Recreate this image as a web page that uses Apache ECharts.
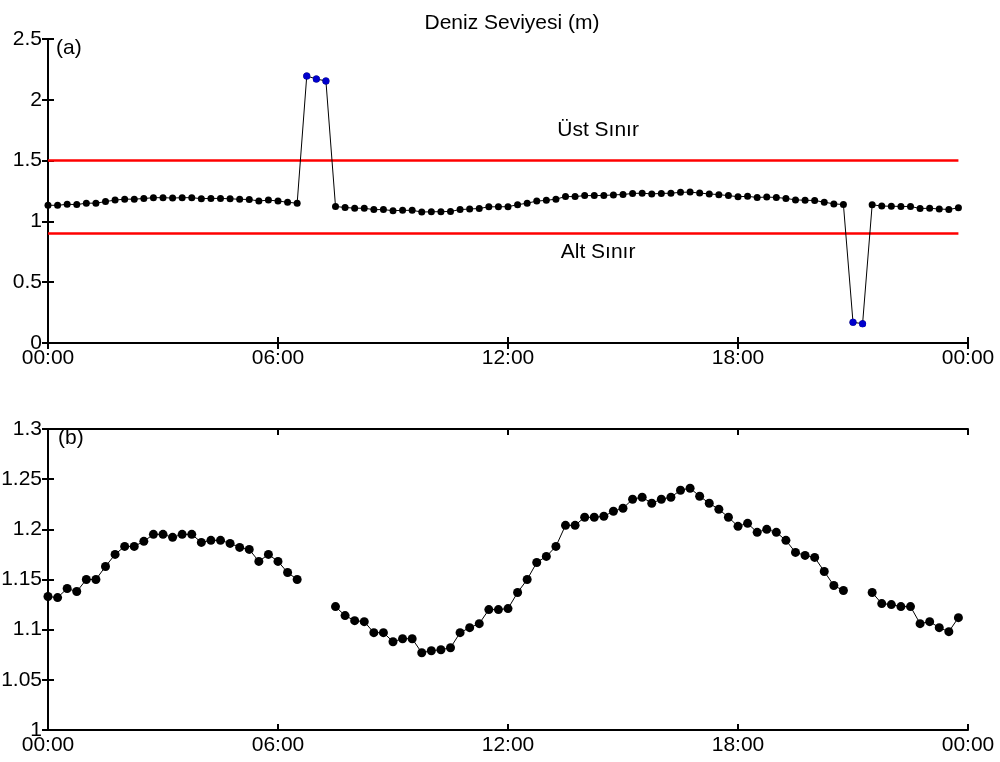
<!DOCTYPE html>
<html>
<head>
<meta charset="utf-8">
<script src="https://cdn.jsdelivr.net/npm/echarts@6/dist/echarts.min.js"></script>
<style>
html,body{margin:0;padding:0;background:#fff;}
#chart{width:1000px;height:762px;}
</style>
</head>
<body>
<div id="chart"></div>
<script>
// ---- data (15-minute samples, hours from 00:00) ----
const stepHours = 0.25;
const seaLevel = [
  1.133, 1.132, 1.141, 1.138, 1.150, 1.150, 1.163, 1.175, 1.183, 1.183,
  1.188, 1.195, 1.195, 1.192, 1.195, 1.195, 1.187, 1.189, 1.189, 1.186,
  1.182, 1.180, 1.168, 1.175, 1.168, 1.157, 1.150, 2.196, 2.171, 2.155,
  1.123, 1.114, 1.109, 1.108, 1.097, 1.097, 1.088, 1.091, 1.091, 1.077,
  1.079, 1.080, 1.082, 1.097, 1.102, 1.106, 1.120, 1.120, 1.121, 1.137,
  1.150, 1.167, 1.173, 1.183, 1.204, 1.204, 1.212, 1.212, 1.213, 1.218,
  1.221, 1.230, 1.232, 1.226, 1.230, 1.232, 1.239, 1.241, 1.233, 1.226,
  1.220, 1.212, 1.203, 1.206, 1.197, 1.200, 1.197, 1.189, 1.177, 1.174,
  1.172, 1.158, 1.144, 1.139, 0.170, 0.159, 1.137, 1.126, 1.125, 1.123,
  1.123, 1.106, 1.108, 1.102, 1.098, 1.112
];
const outlierIdx = [27, 28, 29, 84, 85];
const upperLimit = 1.5;
const lowerLimit = 0.9;
const limitSpan = [0, 23.75];
const limitLabels = ['Üst Sınır', 'Alt Sınır'];
const limitLabelPos = [[14.35, 1.75], [14.35, 0.75]];
const xTickLabels = ['00:00', '06:00', '12:00', '18:00', '00:00'];
const yTicksA = [0, 0.5, 1, 1.5, 2, 2.5];
const yTicksB = [1, 1.05, 1.1, 1.15, 1.2, 1.25, 1.3];

// ---- derived series ----
const allPts = seaLevel.map((v, i) => [i * stepHours, v]);
const outPts = outlierIdx.map(i => [i * stepHours, seaLevel[i]]);
const cleanPts = seaLevel.map((v, i) => [i * stepHours, outlierIdx.includes(i) ? null : v]);

const FONT = 'Liberation Sans, Arial, sans-serif';
const FS = 21;
const axisLine = {show: true, lineStyle: {color: '#000', width: 2}};
const tick = {show: true, inside: true, length: 6, lineStyle: {color: '#000', width: 2}};

function xAx(grid, pos, labels) {
  return {
    type: 'value', gridIndex: grid, position: pos, min: 0, max: 24, interval: 6,
    axisLine: axisLine, axisTick: tick, splitLine: {show: false},
    axisLabel: {
      show: labels, color: '#000', fontFamily: FONT, fontSize: FS, margin: 5,
      formatter: v => xTickLabels[Math.round(v / 6)]
    }
  };
}
function yAx(grid, pos, ticks, interval, labels) {
  return {
    type: 'value', gridIndex: grid, position: pos,
    min: ticks[0], max: ticks[ticks.length - 1], interval: interval,
    axisLine: axisLine, axisTick: tick, splitLine: {show: false},
    axisLabel: {
      show: labels, color: '#000', fontFamily: FONT, fontSize: FS, margin: 6,
      formatter: v => String(Math.round(v * 1000) / 1000)
    }
  };
}

const chart = echarts.init(document.getElementById('chart'), null, {renderer: 'canvas'});
chart.setOption({
  animation: false,
  backgroundColor: '#fff',
  title: {
    text: 'Deniz Seviyesi (m)', left: 507, top: 8, textAlign: 'center',
    textStyle: {fontFamily: FONT, fontSize: FS, fontWeight: 'normal', color: '#000'}
  },
  grid: [
    {left: 48, right: 32, top: 39, height: 304, containLabel: false, outerBoundsMode: 'none'},
    {left: 48, right: 32, top: 429, height: 301, containLabel: false, outerBoundsMode: 'none'}
  ],
  xAxis: [xAx(0, 'bottom', true), xAx(0, 'top', false), xAx(1, 'bottom', true), xAx(1, 'top', false)],
  yAxis: [
    yAx(0, 'left', yTicksA, 0.5, true), yAx(0, 'right', yTicksA, 0.5, false),
    yAx(1, 'left', yTicksB, 0.05, true), yAx(1, 'right', yTicksB, 0.05, false)
  ],
  series: [
    {type: 'line', xAxisIndex: 0, yAxisIndex: 0, data: limitSpan.map(x => [x, upperLimit]),
     symbol: 'none', lineStyle: {color: '#ff0000', width: 2.5}, z: 1},
    {type: 'line', xAxisIndex: 0, yAxisIndex: 0, data: limitSpan.map(x => [x, lowerLimit]),
     symbol: 'none', lineStyle: {color: '#ff0000', width: 2.5}, z: 1},
    {type: 'line', xAxisIndex: 0, yAxisIndex: 0, data: allPts,
     symbol: 'circle', symbolSize: 7, showAllSymbol: true,
     itemStyle: {color: '#000'}, lineStyle: {color: '#000', width: 1}, z: 3},
    {type: 'scatter', xAxisIndex: 0, yAxisIndex: 0, data: outPts,
     symbol: 'circle', symbolSize: 7, itemStyle: {color: '#0000ff'}, z: 4},
    {type: 'line', xAxisIndex: 2, yAxisIndex: 2, data: cleanPts, connectNulls: false,
     symbol: 'circle', symbolSize: 9, showAllSymbol: true,
     itemStyle: {color: '#000'}, lineStyle: {color: '#000', width: 1}, z: 3}
  ]
});

// text annotations placed through the axes' own scale
const annot = limitLabelPos.map((p, i) => {
  const px = chart.convertToPixel({xAxisIndex: 0, yAxisIndex: 0}, p);
  return {type: 'text', x: px[0], y: px[1], z: 10,
          style: {text: limitLabels[i], font: FS + 'px ' + FONT, fill: '#000', align: 'center', verticalAlign: 'middle'}};
});
chart.setOption({
  graphic: [
    {type: 'text', left: 56, top: 38, z: 10, style: {text: '(a)', font: FS + 'px ' + FONT, fill: '#000'}},
    {type: 'text', left: 58, top: 428, z: 10, style: {text: '(b)', font: FS + 'px ' + FONT, fill: '#000'}}
  ].concat(annot)
});
</script>
</body>
</html>
